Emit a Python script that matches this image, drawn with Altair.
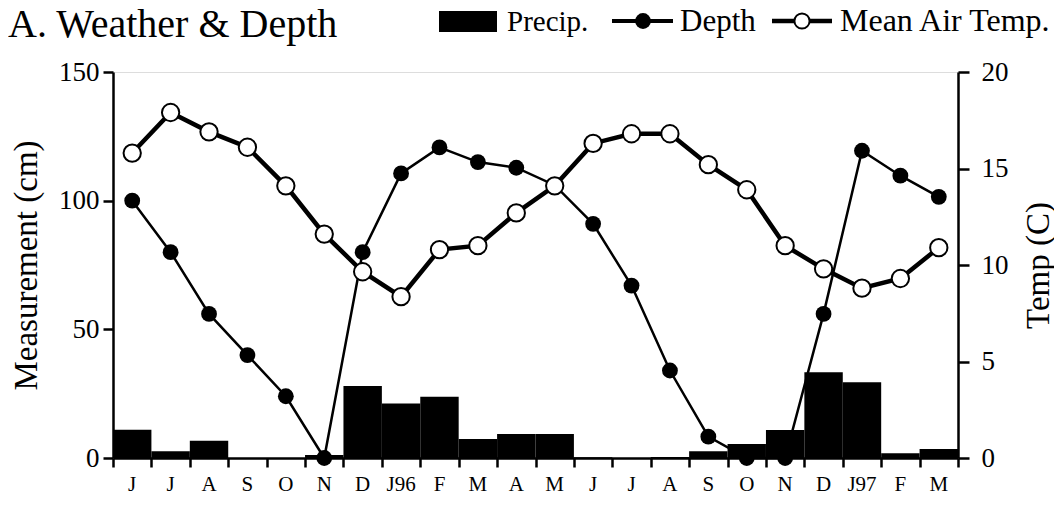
import altair as alt
import pandas as pd

months = ["J", "J", "A", "S", "O", "N", "D", "J96", "F", "M", "A", "M",
          "J", "J", "A", "S", "O", "N", "D", "J97", "F", "M"]
precip = [11, 2.6, 6.7, 0, 0, 1.2, 28, 21.2, 23.8, 7.4, 9.3, 9.3,
          0.3, 0, 0.4, 2.6, 5.4, 10.9, 33.3, 29.4, 1.8, 3.5]
depth = [100, 80, 56, 40, 24, 0, 80, 110.6, 120.7, 115, 112.8, 106,
         91, 67, 34, 8.3, 0, 0, 56, 119.4, 109.7, 101.5]
temp = [15.8, 17.9, 16.9, 16.1, 14.1, 11.6, 9.65, 8.36, 10.8, 11.0, 12.7, 14.1,
        16.3, 16.8, 16.8, 15.2, 13.9, 11.0, 9.8, 8.8, 9.3, 10.9]

n = len(months)
df = pd.DataFrame({
    "start": list(range(n)),
    "end": [i + 1 for i in range(n)],
    "mid": [i + 0.5 for i in range(n)],
    "label": months,
    "precip": precip,
    "depth": depth,
    "temp": temp,
})

FONT = "Liberation Serif"
W, H = 845, 386
xscale = alt.Scale(domain=[0, n], nice=False, zero=False)
lscale = alt.Scale(domain=[0, 150], nice=False, zero=True)
rscale = alt.Scale(domain=[0, 20], nice=False, zero=True)
xaxis = alt.Axis(values=list(range(n + 1)), labels=False, tickSize=9,
                 tickWidth=2.5, domainWidth=2.5, domainColor="black",
                 tickColor="black", grid=False, title=None)

base = alt.Chart(df)

bars = base.mark_rect(color="black").encode(
    x=alt.X("start:Q", scale=xscale, axis=xaxis),
    x2="end:Q",
    y=alt.Y("precip:Q", scale=lscale,
            axis=alt.Axis(values=[0, 50, 100, 150], orient="left", tickSize=10,
                          tickWidth=2.5, domainWidth=2.5, domainColor="black",
                          tickColor="black", grid=False, labelFont=FONT,
                          labelFontSize=27, labelColor="black", labelPadding=4,
                          title="Measurement (cm)", titleFont=FONT,
                          titleFontSize=33, titleFontWeight="normal",
                          titleColor="black", titleAngle=270, titleX=-87,
                          titleY=193, titleBaseline="middle",
                          titleAlign="center")),
    y2=alt.datum(0),
)

depth_line = base.mark_line(color="black", strokeWidth=2.5).encode(
    x=alt.X("mid:Q", scale=xscale, axis=xaxis),
    y=alt.Y("depth:Q", scale=lscale, axis=None),
)
depth_pts = base.mark_circle(color="black", opacity=1, size=250).encode(
    x=alt.X("mid:Q", scale=xscale, axis=xaxis),
    y=alt.Y("depth:Q", scale=lscale, axis=None),
)

temp_line = base.mark_line(color="black", strokeWidth=4.5).encode(
    x=alt.X("mid:Q", scale=xscale, axis=xaxis),
    y=alt.Y("temp:Q", scale=rscale,
            axis=alt.Axis(values=[0, 5, 10, 15, 20], orient="right", tickSize=11,
                          tickWidth=2.5, domainWidth=2.5, domainColor="black",
                          tickColor="black", grid=False, labelFont=FONT,
                          labelFontSize=27, labelColor="black", labelPadding=12,
                          title="Temp (C)", titleFont=FONT, titleFontSize=33,
                          titleFontWeight="normal", titleColor="black",
                          titleAngle=270, titleX=80, titleY=193,
                          titleBaseline="middle", titleAlign="center")),
)
temp_pts = base.mark_point(shape="circle", filled=True, fill="white",
                           stroke="black", strokeWidth=2, opacity=1,
                           size=300).encode(
    x=alt.X("mid:Q", scale=xscale, axis=xaxis),
    y=alt.Y("temp:Q", scale=rscale, axis=None),
)

xlabels = base.mark_text(font=FONT, fontSize=21, color="black",
                         baseline="alphabetic", align="center").encode(
    x=alt.X("mid:Q", scale=xscale, axis=xaxis),
    y=alt.value(H + 33),
    text="label:N",
)

one = alt.Chart(pd.DataFrame({"a": [0]}))
title = one.mark_text(text="A. Weather & Depth", font=FONT, fontSize=40,
                      color="black", align="left", baseline="alphabetic").encode(
    x=alt.value(-105), y=alt.value(-35))
leg_rect = one.mark_rect(color="black").encode(
    x=alt.value(326), x2=alt.value(384), y=alt.value(-61), y2=alt.value(-40))
leg_t1 = one.mark_text(text="Precip.", font=FONT, fontSize=29, color="black",
                       align="left", baseline="alphabetic").encode(
    x=alt.value(394), y=alt.value(-41))
leg_l2 = one.mark_rule(color="black", strokeWidth=4).encode(
    x=alt.value(499), x2=alt.value(560), y=alt.value(-51))
leg_p2 = one.mark_circle(color="black", opacity=1, size=250).encode(
    x=alt.value(530), y=alt.value(-51))
leg_t2 = one.mark_text(text="Depth", font=FONT, fontSize=31, color="black",
                       align="left", baseline="alphabetic").encode(
    x=alt.value(567), y=alt.value(-41))
leg_l3 = one.mark_rule(color="black", strokeWidth=4.5).encode(
    x=alt.value(659), x2=alt.value(719), y=alt.value(-51))
leg_p3 = one.mark_point(shape="circle", filled=True, fill="white", stroke="black",
                        strokeWidth=2, opacity=1, size=230).encode(
    x=alt.value(689), y=alt.value(-51))
leg_t3 = one.mark_text(text="Mean Air Temp.", font=FONT, fontSize=32,
                       color="black", align="left", baseline="alphabetic").encode(
    x=alt.value(727), y=alt.value(-41))

chart = alt.layer(
    bars, depth_line, depth_pts, temp_line, temp_pts, xlabels,
    title, leg_rect, leg_t1, leg_l2, leg_p2, leg_t2, leg_l3, leg_p3, leg_t3,
).resolve_scale(y="independent").properties(
    width=W, height=H, autosize=alt.AutoSizeParams(type="none"),
    padding={"left": 105, "top": 64, "right": 96, "bottom": 40},
).configure_view(stroke=None).configure(background="white")

chart.save("out.html", embed_options={"renderer": "svg", "actions": False})
